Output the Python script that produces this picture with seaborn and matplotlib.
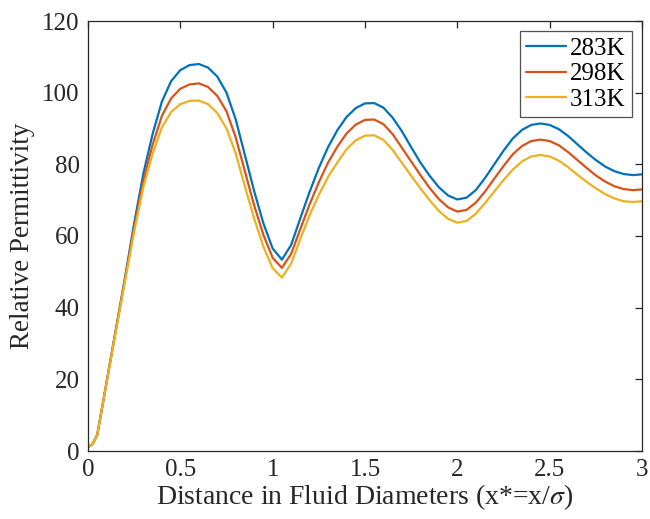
import numpy as np
import pandas as pd
import matplotlib
matplotlib.use("Agg")
import matplotlib.pyplot as plt
import seaborn as sns
from matplotlib.ticker import FuncFormatter

# ---- data ----
x_star = [0.00, 0.025, 0.05, 0.10, 0.15, 0.20, 0.25, 0.30, 0.35, 0.40, 0.45,
          0.50, 0.55, 0.60, 0.65, 0.70, 0.75, 0.80, 0.85, 0.90, 0.95,
          1.00, 1.05, 1.10, 1.15, 1.20, 1.25, 1.30, 1.35, 1.40, 1.45,
          1.50, 1.55, 1.60, 1.65, 1.70, 1.75, 1.80, 1.85, 1.90, 1.95,
          2.00, 2.05, 2.10, 2.15, 2.20, 2.25, 2.30, 2.35, 2.40, 2.45,
          2.50, 2.55, 2.60, 2.65, 2.70, 2.75, 2.80, 2.85, 2.90, 2.95, 3.00]

eps_283K = [1.0, 2.0, 4.5, 19.0, 33.7, 48.3, 63.5, 77.5, 88.5, 97.5, 103.2,
            106.3, 107.7, 108.0, 107.0, 104.5, 100.0, 92.5, 82.5, 72.5, 63.5,
            56.5, 53.4, 57.5, 65.0, 72.3, 79.0, 84.8, 89.5, 93.2, 95.7,
            97.0, 97.1, 95.8, 93.0, 89.2, 84.8, 80.5, 76.8, 73.6, 71.3,
            70.2, 70.7, 72.8, 76.2, 80.0, 83.8, 87.2, 89.6, 91.0, 91.4,
            91.0, 89.8, 87.9, 85.6, 83.3, 81.2, 79.4, 78.1, 77.3, 77.0, 77.2]

eps_298K = [1.0, 2.0, 4.5, 19.0, 33.5, 47.8, 62.3, 75.5, 85.5, 93.5, 98.4,
            101.1, 102.3, 102.6, 101.6, 99.1, 94.8, 87.5, 78.0, 68.5, 60.3,
            53.9, 51.1, 55.0, 62.0, 68.8, 75.0, 80.5, 84.9, 88.6, 91.1,
            92.4, 92.5, 91.2, 88.4, 84.6, 80.8, 77.0, 73.4, 70.3, 68.0,
            66.8, 67.3, 69.3, 72.4, 76.0, 79.5, 82.8, 85.1, 86.5, 86.9,
            86.5, 85.3, 83.4, 81.2, 79.0, 76.9, 75.2, 73.9, 73.1, 72.8, 73.0]

eps_313K = [1.0, 2.0, 4.5, 18.8, 33.2, 47.3, 61.2, 73.7, 83.0, 90.3, 94.6,
            96.8, 97.7, 97.8, 96.8, 94.3, 90.0, 83.0, 73.8, 64.8, 57.0,
            51.0, 48.4, 52.3, 59.2, 65.8, 71.5, 76.5, 80.5, 84.2, 86.7,
            88.0, 88.1, 86.8, 84.0, 80.4, 76.8, 73.3, 70.0, 67.0, 64.8,
            63.7, 64.2, 66.2, 69.2, 72.4, 75.6, 78.5, 80.8, 82.2, 82.6,
            82.2, 81.0, 79.2, 77.1, 75.1, 73.3, 71.7, 70.5, 69.7, 69.5, 69.7]

temperatures = ["283K", "298K", "313K"]
x_ticks = [0, 0.5, 1, 1.5, 2, 2.5, 3]
y_ticks = [0, 20, 40, 60, 80, 100, 120]

df = pd.concat([
    pd.DataFrame({"x": x_star, "eps": vals, "T": t})
    for t, vals in zip(temperatures, [eps_283K, eps_298K, eps_313K])
], ignore_index=True)

# ---- styling ----
sns.set_theme(style="white")
plt.rcParams["font.family"] = ["Liberation Serif", "DejaVu Serif"]
plt.rcParams["mathtext.fontset"] = "stix"

colors = ["#0072BD", "#D95319", "#EDB120"]
axis_col = "#262626"

fig = plt.figure(figsize=(6.5, 5.19), dpi=100)
ax = fig.add_axes([88 / 650, 68 / 519, 554 / 650, 430 / 519])

sns.lineplot(data=df, x="x", y="eps", hue="T", palette=colors, linewidth=1.6,
             ax=ax, legend=False, sort=False, estimator=None)
for ln in ax.get_lines():
    ln.set_solid_joinstyle("round")

ax.set_xlim(0, 3)
ax.set_ylim(0, 120)
ax.set_xticks(x_ticks)
ax.set_yticks(y_ticks)
ax.xaxis.set_major_formatter(FuncFormatter(lambda v, p: f"{v:g}"))
ax.yaxis.set_major_formatter(FuncFormatter(lambda v, p: f"{v:g}"))

for s in ax.spines.values():
    s.set_visible(True)
    s.set_color(axis_col)
    s.set_linewidth(0.9)

ax.tick_params(direction="in", length=5, width=0.9, color=axis_col,
               top=True, right=True, labelsize=18, labelcolor=axis_col, pad=6)

ax.set_xlabel(r"Distance in Fluid Diameters (x*=x/$\sigma$)", fontsize=20,
              color=axis_col, labelpad=1)
ax.set_ylabel("Relative Permittivity", fontsize=19.5, color=axis_col, labelpad=5)

handles = [plt.Line2D([], [], color=c, linewidth=1.6) for c in colors]
leg = ax.legend(handles, temperatures, loc="upper right", fontsize=18,
                frameon=True, fancybox=False, edgecolor=axis_col,
                handlelength=1.6, handletextpad=0.15, borderpad=0.25,
                labelspacing=0.12, borderaxespad=0.4)
leg.get_frame().set_linewidth(0.9)
for t in leg.get_texts():
    t.set_color("black")

fig.savefig("out.png", dpi=100)
